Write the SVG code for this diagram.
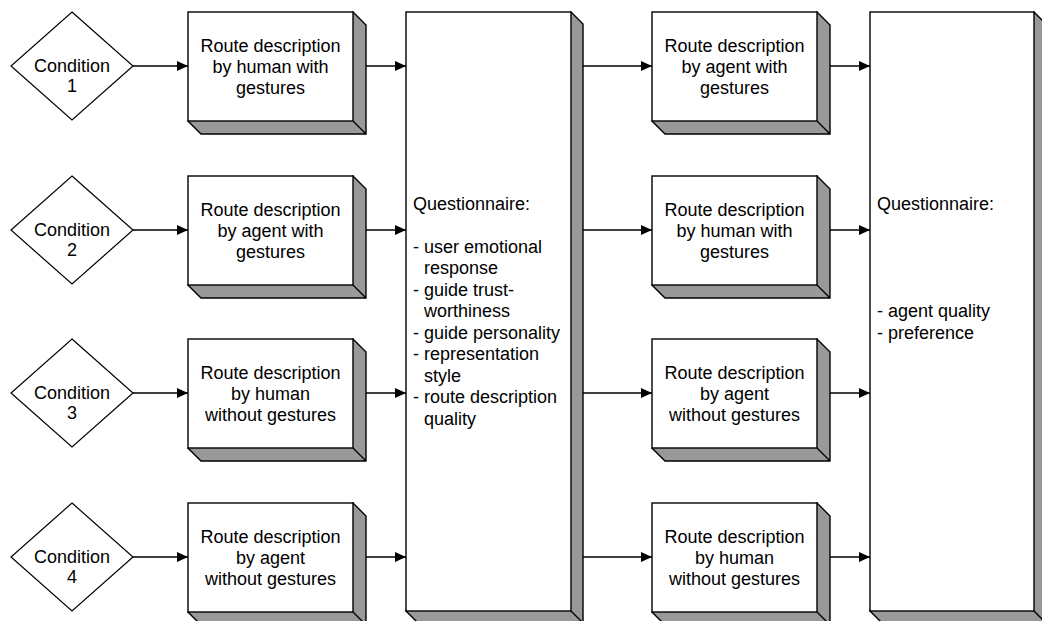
<svg xmlns="http://www.w3.org/2000/svg" xmlns:xlink="http://www.w3.org/1999/xlink" width="1042" height="621" viewBox="0 0 1042 621">
<style>
.shade{fill:#999999;stroke:#000;stroke-width:1.4;stroke-linejoin:miter}
.face{fill:#fff;stroke:#000;stroke-width:1.4}
.dia{fill:#fff;stroke:#000;stroke-width:1.2}
.conn{stroke:#000;stroke-width:1.4;fill:none}
text{font-family:"Liberation Sans",Arial,Helvetica,sans-serif;font-size:18px;fill:#000}
.c{text-anchor:middle}
</style>
<defs>
<marker id="arr" markerUnits="userSpaceOnUse" markerWidth="12" markerHeight="10" refX="11" refY="5" orient="auto">
<path d="M0,0 L11,5 L0,10 Z" fill="#000"/>
</marker>
<g id="box3d">
<path class="shade" d="M165,0 l13,13 v109 H13 L0,109 Z M165,109 l13,13"/>
<rect class="face" x="0" y="0" width="165" height="109"/>
</g>
<polygon id="dia" class="dia" points="0,-54 61,0 0,54 -61,0"/>
</defs>
<rect width="1042" height="621" fill="#fff"/>
<g id="connectors">
<line class="conn" x1="133" y1="66" x2="188" y2="66" marker-end="url(#arr)"/>
<line class="conn" x1="133" y1="230" x2="188" y2="230" marker-end="url(#arr)"/>
<line class="conn" x1="133" y1="393" x2="188" y2="393" marker-end="url(#arr)"/>
<line class="conn" x1="133" y1="557" x2="188" y2="557" marker-end="url(#arr)"/>
<line class="conn" x1="366" y1="66" x2="406" y2="66" marker-end="url(#arr)"/>
<line class="conn" x1="366" y1="230" x2="406" y2="230" marker-end="url(#arr)"/>
<line class="conn" x1="366" y1="393" x2="406" y2="393" marker-end="url(#arr)"/>
<line class="conn" x1="366" y1="557" x2="406" y2="557" marker-end="url(#arr)"/>
<line class="conn" x1="583" y1="66" x2="652" y2="66" marker-end="url(#arr)"/>
<line class="conn" x1="583" y1="230" x2="652" y2="230" marker-end="url(#arr)"/>
<line class="conn" x1="583" y1="393" x2="652" y2="393" marker-end="url(#arr)"/>
<line class="conn" x1="583" y1="557" x2="652" y2="557" marker-end="url(#arr)"/>
<line class="conn" x1="830" y1="66" x2="870" y2="66" marker-end="url(#arr)"/>
<line class="conn" x1="830" y1="230" x2="870" y2="230" marker-end="url(#arr)"/>
<line class="conn" x1="830" y1="393" x2="870" y2="393" marker-end="url(#arr)"/>
<line class="conn" x1="830" y1="557" x2="870" y2="557" marker-end="url(#arr)"/>
</g>
<g id="cond1" transform="translate(72,66)"><use xlink:href="#dia"/><text class="c" x="0" y="6">Condition</text><text class="c" x="0" y="26">1</text></g>
<g id="cond2" transform="translate(72,230)"><use xlink:href="#dia"/><text class="c" x="0" y="6">Condition</text><text class="c" x="0" y="26">2</text></g>
<g id="cond3" transform="translate(72,393)"><use xlink:href="#dia"/><text class="c" x="0" y="6">Condition</text><text class="c" x="0" y="26">3</text></g>
<g id="cond4" transform="translate(72,557)"><use xlink:href="#dia"/><text class="c" x="0" y="6">Condition</text><text class="c" x="0" y="26">4</text></g>
<g id="l1" transform="translate(188,12)"><use xlink:href="#box3d"/><text class="c" x="82.5" y="40">Route description</text><text class="c" x="82.5" y="61">by human with</text><text class="c" x="82.5" y="82">gestures</text></g>
<g id="l2" transform="translate(188,176)"><use xlink:href="#box3d"/><text class="c" x="82.5" y="40">Route description</text><text class="c" x="82.5" y="61">by agent with</text><text class="c" x="82.5" y="82">gestures</text></g>
<g id="l3" transform="translate(188,339)"><use xlink:href="#box3d"/><text class="c" x="82.5" y="40">Route description</text><text class="c" x="82.5" y="61">by human</text><text class="c" x="82.5" y="82">without gestures</text></g>
<g id="l4" transform="translate(188,503)"><use xlink:href="#box3d"/><text class="c" x="82.5" y="40">Route description</text><text class="c" x="82.5" y="61">by agent</text><text class="c" x="82.5" y="82">without gestures</text></g>
<g id="r1" transform="translate(652,12)"><use xlink:href="#box3d"/><text class="c" x="82.5" y="40">Route description</text><text class="c" x="82.5" y="61">by agent with</text><text class="c" x="82.5" y="82">gestures</text></g>
<g id="r2" transform="translate(652,176)"><use xlink:href="#box3d"/><text class="c" x="82.5" y="40">Route description</text><text class="c" x="82.5" y="61">by human with</text><text class="c" x="82.5" y="82">gestures</text></g>
<g id="r3" transform="translate(652,339)"><use xlink:href="#box3d"/><text class="c" x="82.5" y="40">Route description</text><text class="c" x="82.5" y="61">by agent</text><text class="c" x="82.5" y="82">without gestures</text></g>
<g id="r4" transform="translate(652,503)"><use xlink:href="#box3d"/><text class="c" x="82.5" y="40">Route description</text><text class="c" x="82.5" y="61">by human</text><text class="c" x="82.5" y="82">without gestures</text></g>
<g id="q1">
<path class="shade" d="M571,12 L583,24 V623 H418 L406,611 Z M571,611 L583,623"/>
<rect class="face" x="406" y="12" width="165" height="599"/>
<text x="413" y="209.5">Questionnaire:</text>
<text x="413" y="252.5">- user emotional</text>
<text x="424" y="274">response</text>
<text x="413" y="295.5">- guide trust-</text>
<text x="424" y="317">worthiness</text>
<text x="413" y="338.5">- guide personality</text>
<text x="413" y="360">- representation</text>
<text x="424" y="381.5">style</text>
<text x="413" y="403">- route description</text>
<text x="424" y="424.5">quality</text>
</g>
<g id="q2">
<path class="shade" d="M1034,12 L1046,24 V623 H882 L870,611 Z M1034,611 L1046,623"/>
<rect class="face" x="870" y="12" width="164" height="599"/>
<text x="877" y="209.5">Questionnaire:</text>
<text x="877" y="317">- agent quality</text>
<text x="877" y="338.5">- preference</text>
</g>
</svg>
